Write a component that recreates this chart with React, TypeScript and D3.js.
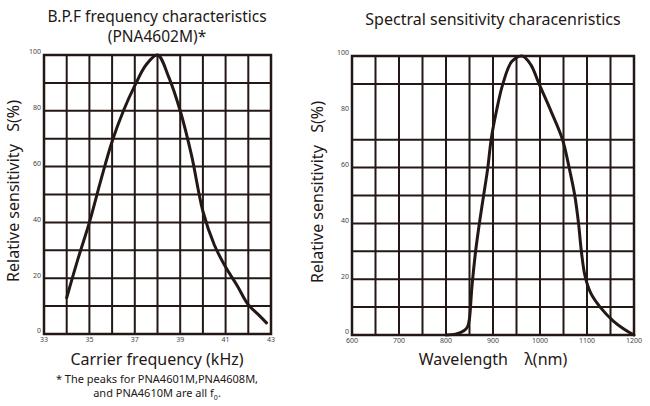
import React from 'react';
import * as d3 from 'd3';

// B.P.F frequency characteristics (kHz, %)
const bpfFreq = [34, 34.5, 35, 35.5, 36, 36.5, 37, 37.5, 38, 38.5, 39, 39.5, 40, 40.5, 41, 41.5, 42, 42.5, 42.8];
const bpfSens = [13, 27, 40, 55, 69, 80, 89, 96.5, 100, 92, 80, 64, 44, 32, 24, 17.5, 10.5, 6.5, 4];
const bpfXTicks = [33, 35, 37, 39, 41, 43];
const bpfXGrid = [33, 34, 35, 36, 37, 38, 39, 40, 41, 42, 43];
const bpfYGrid = [0, 10, 20, 30, 40, 50, 60, 70, 80, 90, 100];

// Spectral sensitivity (nm, %)
const specWave = [800, 820, 838, 846, 850, 855, 863, 871, 880, 889, 896, 907, 921, 940, 962, 980, 998, 1024, 1048, 1062, 1074, 1082, 1088, 1096, 1108, 1128, 1156, 1180, 1200];
const specSens = [0, 0.3, 1.5, 3, 6, 17, 30, 40, 50, 60, 70, 80, 90, 98, 100, 97, 90, 80, 70, 60, 50, 40, 30, 21, 15, 10, 5, 2, 0];
const specXTicks = [600, 700, 800, 900, 1000, 1100, 1200];
const specXGrid = [600, 650, 700, 750, 800, 850, 900, 950, 1000, 1050, 1100, 1150, 1200];
const specYGrid = [0, 10, 20, 30, 40, 50, 60, 70, 90, 100];

const yTicks = [0, 20, 40, 60, 80, 100];

const INK = '#231815';
const FONT = '"Noto Sans", "Open Sans", sans-serif';

type PanelProps = {
  left: number;
  right: number;
  top: number;
  bottom: number;
  xDomain: [number, number];
  xs: number[];
  ys: number[];
  xGrid: number[];
  yGrid: number[];
  xTicks: number[];
};

const Panel = ({ left, right, top, bottom, xDomain, xs, ys, xGrid, yGrid, xTicks }: PanelProps) => {
  const x = d3.scaleLinear().domain(xDomain).range([left, right]);
  const y = d3.scaleLinear().domain([0, 100]).range([bottom, top]);
  const line = d3
    .line<number>()
    .x((d) => x(d))
    .y((_, i) => y(ys[i]))
    .curve(d3.curveCatmullRom.alpha(0.5));

  return (
    <g>
      {xGrid.map((v) => (
        <line key={'vx' + v} x1={x(v)} x2={x(v)} y1={top} y2={bottom} stroke={INK} strokeWidth={2} />
      ))}
      {yGrid.map((v) => (
        <line key={'hy' + v} x1={left} x2={right} y1={y(v)} y2={y(v)} stroke={INK} strokeWidth={2} />
      ))}
      <rect x={left} y={top} width={right - left} height={bottom - top} fill="none" stroke={INK} strokeWidth={2.5} />
      <path d={line(xs) || ''} fill="none" stroke={INK} strokeWidth={3} strokeLinecap="round" />
      {yTicks.map((v) => (
        <text key={'yt' + v} x={left - 3} y={y(v)} dy="-0.1em" textAnchor="end" fontSize={7} fill="#444" fontFamily={FONT}>
          {v}
        </text>
      ))}
      {xTicks.map((v) => (
        <text key={'xt' + v} x={x(v)} y={bottom + 8} textAnchor="middle" fontSize={7} fill="#444" fontFamily={FONT}>
          {v}
        </text>
      ))}
    </g>
  );
};

export default function App() {
  return (
    <svg width={650} height={406} style={{ position: 'absolute', left: 0, top: 0, background: '#fff' }}>
      <rect width={650} height={406} fill="#fff" />
      <g fontFamily={FONT} fill={INK}>
        <text x={157} y={22} textAnchor="middle" fontSize={15.5}>B.P.F frequency characteristics</text>
        <text x={157} y={42} textAnchor="middle" fontSize={15.5}>(PNA4602M)*</text>
        <text x={493} y={25} textAnchor="middle" fontSize={16}>Spectral sensitivity characenristics</text>

        <text transform="translate(19,191) rotate(-90)" textAnchor="middle" fontSize={16} xmlSpace="preserve">
          Relative sensitivity   S(%)
        </text>
        <text transform="translate(323,192) rotate(-90)" textAnchor="middle" fontSize={16} xmlSpace="preserve">
          Relative sensitivity   S(%)
        </text>

        <text x={157} y={365} textAnchor="middle" fontSize={16}>Carrier frequency (kHz)</text>
        <text x={493} y={365} textAnchor="middle" fontSize={16} xmlSpace="preserve">Wavelength    λ(nm)</text>

        <text x={157} y={383} textAnchor="middle" fontSize={11}>* The peaks for PNA4601M,PNA4608M,</text>
        <text x={157} y={397} textAnchor="middle" fontSize={11}>
          and PNA4610M are all f<tspan fontSize={7} dy={3}>0</tspan>
          <tspan dy={-3}>.</tspan>
        </text>
      </g>

      <Panel left={44} right={271} top={55} bottom={334} xDomain={[33, 43]} xs={bpfFreq} ys={bpfSens} xGrid={bpfXGrid} yGrid={bpfYGrid} xTicks={bpfXTicks} />
      <Panel left={352} right={634} top={56} bottom={335} xDomain={[600, 1200]} xs={specWave} ys={specSens} xGrid={specXGrid} yGrid={specYGrid} xTicks={specXTicks} />
    </svg>
  );
}
